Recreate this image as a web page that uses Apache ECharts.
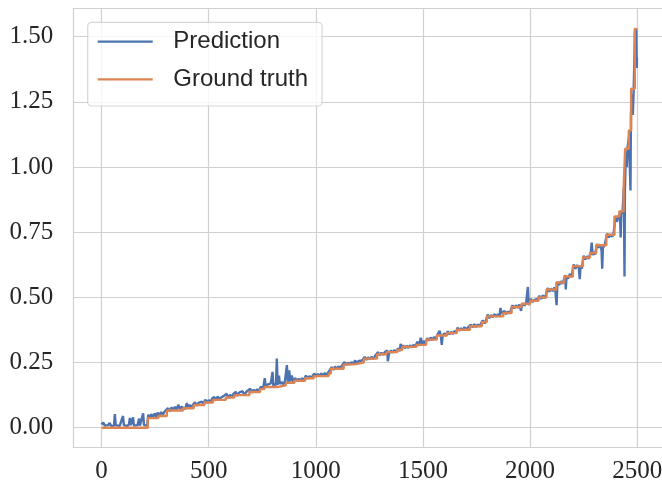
<!DOCTYPE html>
<html><head><meta charset="utf-8">
<script src="https://cdn.jsdelivr.net/npm/echarts@6/dist/echarts.min.js"></script>
<style>html,body{margin:0;padding:0;background:#fff}#c{width:662px;height:488px}</style>
</head><body><div id="c"></div>
<script>
const xTicks = [0, 500, 1000, 1500, 2000, 2500];
const yTicks = [0, 0.25, 0.5, 0.75, 1.0, 1.25, 1.5];
const seriesNames = ['Prediction', 'Ground truth'];

// Ground truth: sorted step levels [index, value] (held until next index)
const groundTruth = [
[0,0.0],[216,0.037],[265,0.045],[305,0.066],[380,0.075],[430,0.087],[480,0.097],[520,0.107],
[580,0.116],[620,0.125],[690,0.137],[740,0.148],[760,0.156],[820,0.163],[860,0.172],[900,0.18],
[950,0.19],[990,0.198],[1060,0.208],[1070,0.226],[1130,0.243],[1180,0.25],[1224,0.265],[1286,0.282],
[1330,0.29],[1380,0.298],[1403,0.31],[1470,0.318],[1515,0.338],[1565,0.354],[1612,0.363],[1658,0.376],
[1720,0.389],[1775,0.405],[1798,0.427],[1875,0.44],[1914,0.463],[1960,0.475],[2000,0.487],[2040,0.50],
[2077,0.53],[2123,0.557],[2160,0.58],[2200,0.62],[2247,0.653],[2280,0.67],[2309,0.70],[2356,0.74],
[2394,0.81],[2417,0.83],[2437,0.92],[2444,1.07],[2461,1.14],[2472,1.30],[2489,1.53],[2499,1.53]
];

// Prediction: [index, value]
const prediction = [
[0,0.012],[8,0.02],[15,0.008],[22,0.015],[30,0.01],[38,0.018],[45,0.006],[52,0.012],[58,0.008],[62,0.052],
[66,0.01],[75,0.015],[84,0.006],[92,0.012],[100,0.045],[104,0.01],[112,0.016],[120,0.006],[128,0.014],[132,0.038],
[136,0.01],[143,0.012],[147,0.04],[151,0.008],[160,0.015],[168,0.01],[175,0.035],[179,0.008],[186,0.014],[194,0.055],
[198,0.01],[206,0.016],[213,0.008],
[218,0.05],[225,0.035],[232,0.052],[240,0.04],[248,0.055],[256,0.042],[262,0.058],[270,0.048],[278,0.06],[286,0.05],
[294,0.062],[302,0.058],[310,0.075],[318,0.062],[326,0.078],[334,0.068],[342,0.08],[350,0.07],[358,0.088],[366,0.072],
[374,0.08],[382,0.085],[390,0.072],[398,0.095],[404,0.078],[412,0.088],[420,0.076],[428,0.09],[436,0.098],[444,0.084],
[452,0.095],[460,0.088],[468,0.1],[476,0.09],[484,0.108],[492,0.095],[500,0.106],[508,0.098],[516,0.112],[526,0.118],
[534,0.104],[542,0.12],[550,0.108],[558,0.116],[566,0.11],[574,0.124],[584,0.13],[592,0.114],[600,0.126],[608,0.118],
[616,0.13],[626,0.138],[634,0.122],[642,0.135],[650,0.128],[658,0.14],[666,0.125],[674,0.136],[682,0.13],[694,0.15],
[702,0.134],[710,0.146],[718,0.138],[726,0.148],[734,0.14],[744,0.158],[750,0.146],[756,0.16],[762,0.19],[766,0.155],
[774,0.165],[782,0.158],[790,0.17],[798,0.214],[802,0.16],[810,0.17],[814,0.162],[818,0.265],[822,0.165],[828,0.2],
[832,0.168],[840,0.176],[848,0.165],[856,0.178],[865,0.24],[870,0.175],[876,0.22],[880,0.178],[888,0.2],[894,0.176],
[904,0.19],[912,0.178],[920,0.188],[928,0.18],[936,0.19],[944,0.182],[954,0.2],[962,0.188],[970,0.198],[978,0.19],
[986,0.2],[994,0.208],[1002,0.196],[1010,0.206],[1018,0.198],[1026,0.208],[1034,0.2],[1042,0.21],[1050,0.202],[1058,0.212],
[1064,0.21],[1074,0.232],[1082,0.222],[1090,0.235],[1098,0.224],[1106,0.236],[1114,0.226],[1122,0.238],[1134,0.252],[1142,0.24],
[1150,0.25],[1158,0.242],[1166,0.252],[1174,0.244],[1184,0.258],[1192,0.246],[1200,0.256],[1208,0.25],[1216,0.258],[1228,0.272],
[1236,0.26],[1244,0.27],[1252,0.262],[1260,0.272],[1268,0.264],[1276,0.274],[1290,0.29],[1298,0.278],[1306,0.288],[1314,0.28],
[1322,0.29],[1334,0.296],[1336,0.255],[1342,0.285],[1350,0.296],[1358,0.288],[1366,0.298],[1374,0.29],[1384,0.304],[1392,0.294],
[1396,0.322],[1400,0.306],[1408,0.316],[1416,0.305],[1424,0.314],[1432,0.306],[1440,0.316],[1448,0.308],[1456,0.318],[1464,0.31],
[1474,0.33],[1482,0.314],[1490,0.345],[1498,0.316],[1506,0.334],[1510,0.32],[1520,0.344],[1528,0.334],[1536,0.346],[1544,0.336],
[1552,0.348],[1560,0.34],[1570,0.36],[1578,0.372],[1584,0.35],[1588,0.318],[1592,0.352],[1600,0.362],[1608,0.354],[1616,0.37],
[1624,0.358],[1632,0.368],[1640,0.36],[1648,0.372],[1654,0.362],[1662,0.384],[1670,0.372],[1678,0.382],[1686,0.374],[1694,0.386],
[1702,0.376],[1710,0.384],[1716,0.378],[1724,0.396],[1732,0.385],[1740,0.398],[1748,0.386],[1756,0.396],[1764,0.388],[1770,0.398],
[1780,0.412],[1788,0.4],[1794,0.41],[1802,0.434],[1810,0.42],[1818,0.432],[1826,0.424],[1834,0.436],[1842,0.426],[1850,0.436],
[1858,0.428],[1862,0.46],[1866,0.438],[1880,0.448],[1888,0.436],[1896,0.446],[1904,0.438],[1910,0.45],[1918,0.47],[1926,0.458],
[1934,0.47],[1942,0.46],[1950,0.472],[1958,0.448],[1962,0.47],[1966,0.478],[1974,0.468],[1982,0.48],[1990,0.54],[1994,0.47],
[2004,0.494],[2012,0.482],[2020,0.49],[2028,0.484],[2036,0.494],[2044,0.506],[2052,0.494],[2060,0.508],[2068,0.496],[2074,0.51],
[2082,0.536],[2090,0.522],[2098,0.534],[2106,0.524],[2114,0.538],[2118,0.528],[2124,0.47],[2128,0.56],[2136,0.548],[2144,0.562],
[2152,0.552],[2164,0.586],[2167,0.53],[2170,0.58],[2178,0.572],[2186,0.59],[2194,0.578],[2204,0.626],[2212,0.61],[2220,0.624],
[2228,0.612],[2232,0.57],[2236,0.62],[2242,0.61],[2250,0.66],[2258,0.645],[2266,0.658],[2274,0.648],[2284,0.676],[2288,0.71],
[2292,0.662],[2298,0.674],[2304,0.664],[2312,0.705],[2318,0.69],[2326,0.704],[2334,0.68],[2337,0.61],[2340,0.69],[2348,0.7],
[2360,0.745],[2368,0.73],[2376,0.742],[2384,0.732],[2386,0.73],[2390,0.745],[2398,0.805],[2406,0.79],[2412,0.81],[2420,0.82],
[2423,0.73],[2426,0.82],[2432,0.83],[2438,0.92],[2441,0.58],[2443,0.92],[2448,1.06],[2452,1.0],[2456,1.08],[2463,1.12],
[2466,1.0],[2469,0.91],[2471,1.2],[2476,1.28],[2480,1.2],[2484,1.3],[2490,1.52],[2493,1.45],[2496,1.53],[2498,1.38],[2499,1.42]
];

const chart = echarts.init(document.getElementById('c'), null, {renderer: 'canvas'});
const gridColor = '#d0d0d0';
const txt = '#262626';
const lineSt = {color: gridColor, width: 1.2};
chart.setOption({
  animation: false,
  backgroundColor: '#fff',
  grid: {left: 73.3, top: 8.4, width: 590.4, height: 439.3, show: false, containLabel: false, outerBoundsMode: 'none'},
  legend: {
    data: seriesNames, orient: 'vertical', left: 87.7, top: 22.3,
    icon: 'rect', itemWidth: 55, itemHeight: 2.2, itemGap: 11.6,
    padding: [6.4, 14, 13.7, 10],
    backgroundColor: 'rgba(255,255,255,0.8)', borderColor: 'rgba(204,204,204,0.8)', borderWidth: 1.2, borderRadius: 4,
    textStyle: {fontFamily: 'Liberation Sans', fontSize: 24, lineHeight: 26, color: txt, padding: [0,0,0,15.6]}
  },
  xAxis: [{
    type: 'value', min: -132, max: 2624, position: 'bottom',
    axisLine: {show: true, onZero: false, lineStyle: lineSt},
    axisTick: {show: false, customValues: xTicks},
    splitLine: {show: true, lineStyle: lineSt},
    axisLabel: {customValues: xTicks, margin: 11, fontFamily: 'Liberation Serif', fontSize: 25, color: txt,
      formatter: v => String(v)}
  }, {
    type: 'value', min: -132, max: 2624, position: 'top',
    axisLine: {show: true, onZero: false, lineStyle: lineSt},
    axisTick: {show: false}, splitLine: {show: false}, axisLabel: {show: false}
  }],
  yAxis: {
    type: 'value', min: -0.0766, max: 1.6085,
    axisLine: {show: true, onZero: false, lineStyle: lineSt},
    axisTick: {show: false, customValues: yTicks},
    splitLine: {show: true, lineStyle: lineSt},
    axisLabel: {customValues: yTicks, margin: 20, fontFamily: 'Liberation Serif', fontSize: 25, color: txt,
      formatter: v => v.toFixed(2)}
  },
  series: [
    {name: seriesNames[0], type: 'line', data: prediction, showSymbol: false, symbol: 'none',
     lineStyle: {color: '#4c72b0', width: 2.4}, itemStyle: {color: '#4c72b0'}, z: 2},
    {name: seriesNames[1], type: 'line', data: groundTruth, step: 'end', showSymbol: false, symbol: 'none',
     lineStyle: {color: '#dd8452', width: 2.4}, itemStyle: {color: '#dd8452'}, z: 3}
  ]
});
</script>
</body></html>
